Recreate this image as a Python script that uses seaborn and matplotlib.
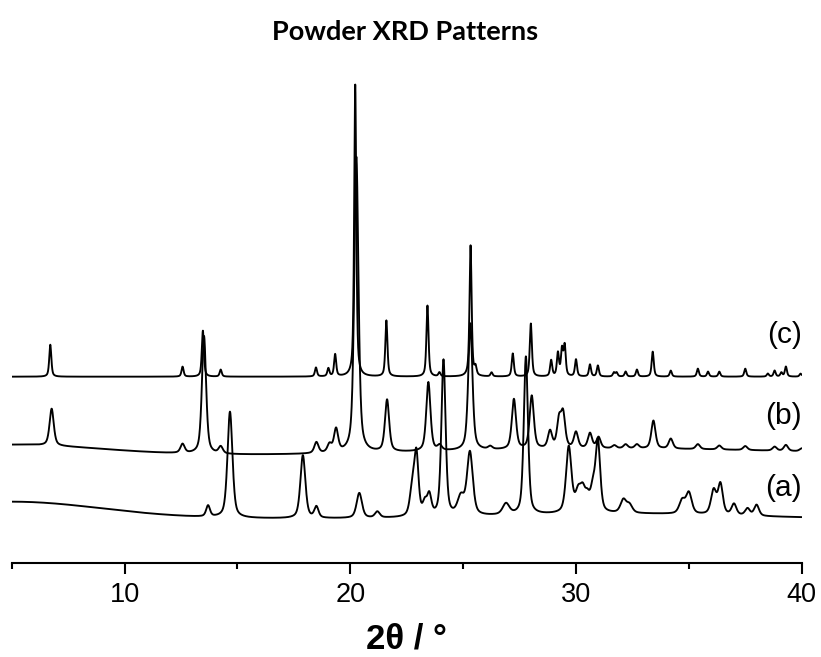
import numpy as np
import pandas as pd
import matplotlib
matplotlib.use("Agg")
import matplotlib.pyplot as plt
import seaborn as sns
from matplotlib.ticker import MultipleLocator

# ---------------------------------------------------------------------------
# Peak tables (2-theta position in degrees, intensity in arbitrary units)
# ---------------------------------------------------------------------------
sample_labels = ["(a)", "(b)", "(c)"]

# vertical offsets used to stack the patterns
offset_a = 44.0
offset_b = 107.0
offset_c = 186.0

# (c) simulated pattern
pos_c = [6.71, 12.57, 13.47, 14.26, 18.48, 19.03, 19.33, 20.22, 21.60, 23.42,
         23.95, 25.33, 25.55, 26.26, 27.20, 28.00, 28.90, 29.20, 29.38, 29.50,
         30.00, 30.62, 30.97, 31.68, 31.80, 32.20, 32.70, 33.40, 34.20, 35.40,
         35.85, 36.35, 37.50, 38.50, 38.80, 39.10, 39.30, 39.95]
int_c = [32, 10, 46, 7, 9, 8, 22, 292, 56, 71,
         4, 131, 8, 4, 23, 53, 16, 23, 26, 30,
         17, 12, 11, 4, 4, 5, 7, 25, 6, 8,
         5, 5, 8, 3, 6, 4, 10, 3]
fwhm_c = 0.11

# (b) measured pattern
pos_b = [6.77, 12.57, 13.52, 14.26, 18.50, 19.08, 19.37, 20.27, 21.63, 23.46,
         23.96, 25.32, 26.20, 27.25, 28.04, 28.85, 29.25, 29.43, 30.00, 30.62,
         31.00, 31.70, 32.20, 32.70, 33.43, 34.20, 35.40, 36.35, 37.50, 38.80,
         39.30, 40.00]
int_b = [37, 9, 118, 7, 11, 8, 23, 296, 52, 69,
         5, 127, 3, 50, 53, 17, 27, 33, 16, 15,
         11, 3, 4, 4, 28, 10, 5, 4, 4, 4,
         6, 3]
fwhm_b = 0.22

# (a) measured pattern
pos_a = [13.70, 14.67, 17.90, 18.50, 20.40, 21.20, 22.75, 22.93, 23.30, 23.50,
         24.13, 24.90, 25.30, 26.90, 27.78, 29.68, 30.10, 30.30, 30.50, 30.75,
         30.97, 32.10, 32.37, 34.70, 35.00, 36.10, 36.40, 37.00, 37.60, 38.00]
int_a = [11, 106, 63, 11, 25, 6, 28, 60, 12, 20,
         156, 18, 63, 11, 158, 66, 20, 18, 14, 22,
         70, 13, 8, 13, 21, 24, 30, 11, 7, 11]
fwhm_a = [0.20, 0.26, 0.26, 0.22, 0.28, 0.25, 0.25, 0.22, 0.22, 0.22,
          0.22, 0.35, 0.30, 0.35, 0.22, 0.28, 0.30, 0.25, 0.25, 0.25,
          0.24, 0.30, 0.30, 0.30, 0.30, 0.28, 0.25, 0.25, 0.25, 0.25]

# broad background contributions (low-angle scatter and amorphous hump)
bg_pos_a = [5.0, 32.0]
bg_int_a = [17, 5]
bg_fwhm_a = [9.4, 12.0]

bg_pos_b = [5.0, 32.0]
bg_int_b = [11, 7]
bg_fwhm_b = [9.4, 19.0]


def pseudo_voigt(x, centres, heights, widths, eta):
    widths = np.broadcast_to(np.asarray(widths, dtype=float), (len(centres),))
    y = np.zeros_like(x)
    for c, h, w in zip(centres, heights, widths):
        d = (x - c) / w
        lor = 1.0 / (1.0 + 4.0 * d ** 2)
        gau = np.exp(-4.0 * np.log(2.0) * d ** 2)
        y += h * (eta * lor + (1.0 - eta) * gau)
    return y


two_theta = np.arange(5.0, 40.0 + 1e-9, 0.01)

curve_a = (offset_a + pseudo_voigt(two_theta, pos_a, int_a, fwhm_a, 0.5)
           + pseudo_voigt(two_theta, bg_pos_a, bg_int_a, bg_fwhm_a, 0.0))
curve_b = (offset_b + pseudo_voigt(two_theta, pos_b, int_b, fwhm_b, 0.55)
           + pseudo_voigt(two_theta, bg_pos_b, bg_int_b, bg_fwhm_b, 0.0))
curve_c = offset_c + pseudo_voigt(two_theta, pos_c, int_c, fwhm_c, 0.6)

df = pd.concat([
    pd.DataFrame({"two_theta": two_theta, "intensity": curve, "sample": name})
    for name, curve in zip(sample_labels, [curve_a, curve_b, curve_c])
], ignore_index=True)

# ---------------------------------------------------------------------------
# Figure
# ---------------------------------------------------------------------------
sns.set_theme(style="ticks")
plt.rcParams["font.family"] = ["Liberation Sans", "DejaVu Sans"]
plt.rcParams["text.color"] = "black"
plt.rcParams["axes.labelcolor"] = "black"
plt.rcParams["xtick.color"] = "black"
plt.rcParams["axes.edgecolor"] = "black"

fig = plt.figure(figsize=(8.21, 6.57), dpi=100)
ax = fig.add_axes([11.7 / 821, 94.3 / 657, 790 / 821, 492.7 / 657])

sns.lineplot(data=df, x="two_theta", y="intensity", hue="sample",
             palette=["black"] * 3, legend=False, estimator=None,
             errorbar=None, linewidth=1.35, ax=ax)

ax.set_xlim(5, 40)
ax.set_ylim(0, 492.7)
ax.xaxis.set_major_locator(MultipleLocator(10))
ax.xaxis.set_minor_locator(MultipleLocator(5))
ax.set_yticks([])
ax.set_ylabel("")
ax.set_xlabel("2θ / °", fontsize=25, fontweight="bold", labelpad=10)

for side in ["left", "right", "top"]:
    ax.spines[side].set_visible(False)
ax.spines["bottom"].set_linewidth(1.5)
ax.tick_params(axis="x", which="major", length=8, width=1.5, pad=6,
               labelsize=19.5, colors="black")
ax.tick_params(axis="x", which="minor", length=4.3, width=1.5)

for label, y in zip(sample_labels, [74.7, 146.7, 227.7]):
    ax.text(40, y, label, ha="right", va="center", fontsize=21.5)

fig.text(405 / 821, 1 - 40 / 657, "Powder XRD Patterns", ha="center",
         va="baseline", fontsize=19.5, fontweight="bold", family="Lato")

fig.savefig("out.png", dpi=100)
